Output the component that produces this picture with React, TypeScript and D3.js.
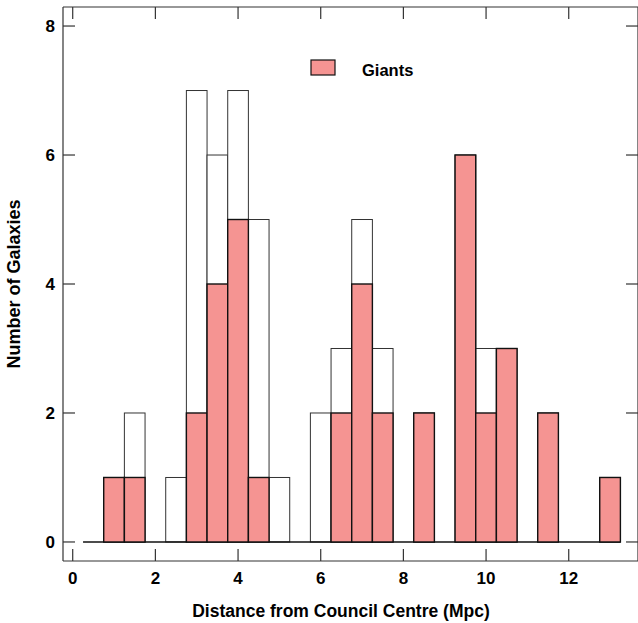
import React, { useEffect, useRef } from 'react';
import * as d3 from 'd3';

const WIDTH = 638;
const HEIGHT = 623;
const FRAME = { left: 63, right: 639, top: 7, bottom: 561 };

// bin centres (Mpc), bin width 0.5
const binCentres = [0.5, 1, 1.5, 2, 2.5, 3, 3.5, 4, 4.5, 5, 5.5, 6, 6.5, 7, 7.5, 8, 8.5, 9, 9.5, 10, 10.5, 11, 11.5, 12, 12.5, 13];
const allCounts = [0, 1, 2, 0, 1, 7, 6, 7, 5, 1, 0, 2, 3, 5, 3, 0, 2, 0, 6, 3, 3, 0, 2, 0, 0, 1];
const giantCounts = [0, 1, 1, 0, 0, 2, 4, 5, 1, 0, 0, 0, 2, 4, 2, 0, 2, 0, 6, 2, 3, 0, 2, 0, 0, 1];
const xTicks = [0, 2, 4, 6, 8, 10, 12];
const yTicks = [0, 2, 4, 6, 8];
const BIN_WIDTH = 0.5;

export default function App() {
    const svgRef = useRef<SVGSVGElement | null>(null);

    useEffect(() => {
        const svg = d3.select(svgRef.current);
        svg.selectAll('*').remove();

        const x = d3.scaleLinear().domain([-0.235, 13.7]).range([FRAME.left, FRAME.right]);
        const y = d3.scaleLinear().domain([-0.295, 8.295]).range([FRAME.bottom, FRAME.top]);

        const font = 'Liberation Sans, Arial, Helvetica, sans-serif';

        // all galaxies (open bars)
        svg.append('g')
            .selectAll('rect')
            .data(binCentres.filter((d, i) => allCounts[i] > 0))
            .join('rect')
            .attr('x', (d) => x(d - BIN_WIDTH / 2))
            .attr('width', x(BIN_WIDTH) - x(0))
            .attr('y', (d) => y(allCounts[binCentres.indexOf(d)]))
            .attr('height', (d) => y(0) - y(allCounts[binCentres.indexOf(d)]))
            .attr('fill', '#fff')
            .attr('stroke', '#333')
            .attr('stroke-width', 1);

        // baseline where the histogram has empty bins
        const first = binCentres[0] - BIN_WIDTH / 2;
        const last = binCentres[binCentres.length - 1] + BIN_WIDTH / 2;
        svg.append('line')
            .attr('x1', x(first))
            .attr('x2', x(last))
            .attr('y1', y(0))
            .attr('y2', y(0))
            .attr('stroke', '#111')
            .attr('stroke-width', 1.6);

        // giants (filled bars)
        svg.append('g')
            .selectAll('rect')
            .data(binCentres.filter((d, i) => giantCounts[i] > 0))
            .join('rect')
            .attr('x', (d) => x(d - BIN_WIDTH / 2))
            .attr('width', x(BIN_WIDTH) - x(0))
            .attr('y', (d) => y(giantCounts[binCentres.indexOf(d)]))
            .attr('height', (d) => y(0) - y(giantCounts[binCentres.indexOf(d)]))
            .attr('fill', '#f59492')
            .attr('stroke', '#111')
            .attr('stroke-width', 1.4);

        // frame
        const frame = svg.append('g').attr('stroke', '#333').attr('stroke-width', 1.2).attr('fill', 'none');
        frame.append('line').attr('x1', FRAME.left).attr('x2', FRAME.right).attr('y1', FRAME.bottom).attr('y2', FRAME.bottom);
        frame.append('line').attr('x1', FRAME.left).attr('x2', FRAME.right).attr('y1', FRAME.top).attr('y2', FRAME.top);
        frame.append('line').attr('x1', FRAME.left).attr('x2', FRAME.left).attr('y1', FRAME.top).attr('y2', FRAME.bottom);
        frame.append('line').attr('x1', 638).attr('x2', 638).attr('y1', FRAME.top).attr('y2', FRAME.bottom);

        const tickLen = 12;
        xTicks.forEach((t) => {
            frame.append('line').attr('x1', x(t)).attr('x2', x(t)).attr('y1', FRAME.bottom).attr('y2', FRAME.bottom - tickLen);
            frame.append('line').attr('x1', x(t)).attr('x2', x(t)).attr('y1', FRAME.top).attr('y2', FRAME.top + tickLen);
        });
        yTicks.forEach((t) => {
            frame.append('line').attr('x1', FRAME.left).attr('x2', FRAME.left + tickLen).attr('y1', y(t)).attr('y2', y(t));
            frame.append('line').attr('x1', 638).attr('x2', 638 - tickLen).attr('y1', y(t)).attr('y2', y(t));
        });

        const labels = svg.append('g').attr('font-family', font).attr('font-weight', 'bold').attr('font-size', 17).attr('fill', '#000');
        labels.selectAll('text.xt')
            .data(xTicks)
            .join('text')
            .attr('class', 'xt')
            .attr('x', (d) => x(d))
            .attr('y', 584)
            .attr('text-anchor', 'middle')
            .text((d) => d);
        labels.selectAll('text.yt')
            .data(yTicks)
            .join('text')
            .attr('class', 'yt')
            .attr('x', 55)
            .attr('y', (d) => y(d) + 6)
            .attr('text-anchor', 'end')
            .text((d) => d);

        labels.append('text')
            .attr('x', 341)
            .attr('y', 617)
            .attr('text-anchor', 'middle')
            .attr('font-size', 17.5)
            .text('Distance from Council Centre (Mpc)');
        labels.append('text')
            .attr('transform', `translate(20, 284) rotate(-90)`)
            .attr('text-anchor', 'middle')
            .attr('font-size', 18)
            .text('Number of Galaxies');

        // legend
        svg.append('rect')
            .attr('x', 311)
            .attr('y', 60)
            .attr('width', 24)
            .attr('height', 15)
            .attr('fill', '#f59492')
            .attr('stroke', '#111')
            .attr('stroke-width', 1.2);
        svg.append('text')
            .attr('x', 362)
            .attr('y', 76)
            .attr('font-family', font)
            .attr('font-weight', 'bold')
            .attr('font-size', 16.5)
            .text('Giants');
    }, []);

    return (
        <svg
            ref={svgRef}
            width={WIDTH}
            height={HEIGHT}
            style={{ position: 'absolute', left: 0, top: 0, background: '#fff' }}
        />
    );
}
